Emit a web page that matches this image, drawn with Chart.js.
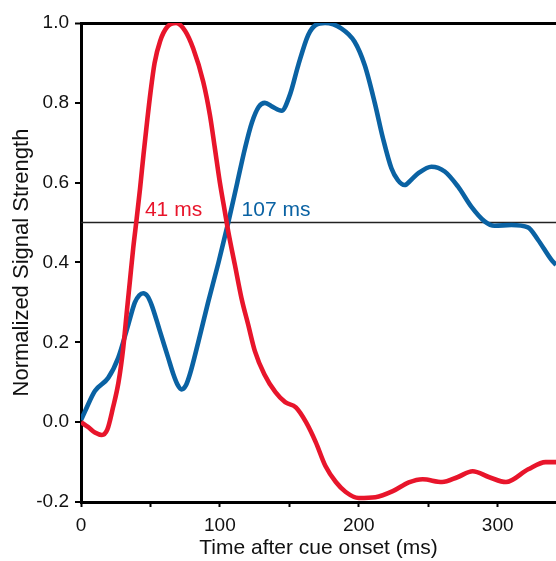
<!DOCTYPE html>
<html>
<head>
<meta charset="utf-8">
<script src="https://cdn.jsdelivr.net/npm/chart.js@4.4.0/dist/chart.umd.min.js"></script>
<style>
  html, body { margin: 0; padding: 0; background: #fff; }
  #wrap { width: 556px; height: 561px; }
</style>
</head>
<body>
<div id="wrap"><canvas id="signalChart" width="556" height="561"></canvas></div>
<script>
// red curve (early signal)
const redTimes = [0, 5, 10, 15, 19, 23, 27, 30.4, 32.8, 35.2, 37.6, 40.1, 42.5, 45, 47.5, 50, 53, 57, 62, 68.5, 75, 80.8, 88, 92.8, 96.4, 100, 103.6, 106, 110.8, 115.6, 120.4, 125.2, 132, 140, 147, 154.7, 162, 169, 176, 183.5, 190.6, 200, 212, 224.5, 236, 246, 260, 271, 282, 294, 306, 322, 334.5, 342]
const redValues = [0.0, -0.012, -0.026, -0.032, -0.018, 0.036, 0.1, 0.186, 0.27, 0.353, 0.436, 0.51, 0.585, 0.67, 0.75, 0.825, 0.9, 0.955, 0.99, 1.0, 0.98, 0.936, 0.853, 0.77, 0.686, 0.6, 0.527, 0.478, 0.394, 0.31, 0.244, 0.178, 0.12, 0.075, 0.05, 0.037, 0.0, -0.05, -0.11, -0.15, -0.175, -0.19, -0.188, -0.173, -0.151, -0.143, -0.15, -0.138, -0.123, -0.138, -0.15, -0.118, -0.1, -0.1]

// blue curve (late signal)
const blueTimes = [0, 3, 10, 19.6, 26.8, 34, 38.8, 42, 44.8, 47.8, 50.8, 56.8, 62.8, 66.5, 69.5, 72.4, 75.5, 78.4, 84.4, 91.5, 99, 106, 112.5, 118, 123, 128, 132.4, 138, 144.4, 150.4, 156.4, 163.6, 169, 175.7, 187.6, 197, 204.3, 211.5, 217.5, 223.5, 228, 233, 238, 242.7, 252.3, 261.9, 271.5, 281, 290.6, 297.8, 309.9, 321.8, 329, 338.6, 342]
const blueValues = [0.005, 0.028, 0.078, 0.111, 0.161, 0.244, 0.3, 0.318, 0.323, 0.316, 0.294, 0.228, 0.161, 0.12, 0.094, 0.082, 0.092, 0.12, 0.2, 0.3, 0.4, 0.5, 0.6, 0.685, 0.75, 0.79, 0.8, 0.79, 0.78, 0.82, 0.894, 0.97, 0.995, 1.0, 0.986, 0.953, 0.894, 0.8, 0.71, 0.636, 0.607, 0.594, 0.608, 0.623, 0.64, 0.628, 0.59, 0.54, 0.503, 0.492, 0.494, 0.488, 0.457, 0.407, 0.394]

const threshold = 0.5
const crossTimes = [41, 107]
const crossLabels = ['41 ms', '107 ms']

const xTicks = [0, 50, 100, 150, 200, 250, 300]
const xTickLabels = ['0', '', '100', '', '200', '', '300']
const yTicks = [-0.2, 0, 0.2, 0.4, 0.6, 0.8, 1.0]
const yTickLabels = ['-0.2', '0.0', '0.2', '0.4', '0.6', '0.8', '1.0']

const xMin = 0
const xMax = 342
const yMin = -0.2
const yMax = 1.0

const RED = '#e8152b'
const BLUE = '#0a62a3'
const FONT = '"Liberation Sans", Arial, Helvetica, sans-serif'

function toPoints(xs, ys) {
  return xs.map((x, i) => ({ x: x, y: ys[i] }))
}

// draws the "41 ms" / "107 ms" labels just right of each crossing
const crossLabelPlugin = {
  id: 'crossLabels',
  afterDatasetsDraw(chart) {
    const { ctx, scales } = chart
    const colors = [RED, BLUE]
    const gaps = [7, 12]
    ctx.save()
    ctx.font = '21px ' + FONT
    ctx.textAlign = 'left'
    ctx.textBaseline = 'alphabetic'
    crossLabels.forEach((txt, i) => {
      const px = scales.x.getPixelForValue(crossTimes[i]) + gaps[i]
      const py = scales.y.getPixelForValue(threshold) - 7
      ctx.fillStyle = colors[i]
      ctx.fillText(txt, px, py)
    })
    ctx.restore()
  }
}

const ctx = document.getElementById('signalChart').getContext('2d')

new Chart(ctx, {
  type: 'line',
  data: {
    datasets: [
      {
        label: 'early',
        data: toPoints(redTimes, redValues),
        borderColor: RED,
        borderWidth: 4.6,
        pointRadius: 0,
        cubicInterpolationMode: 'monotone',
        fill: false
      },
      {
        label: 'late',
        data: toPoints(blueTimes, blueValues),
        borderColor: BLUE,
        borderWidth: 4.6,
        pointRadius: 0,
        cubicInterpolationMode: 'monotone',
        fill: false
      },
      {
        label: 'half max',
        data: [{ x: xMin, y: threshold }, { x: xMax, y: threshold }],
        borderColor: '#222',
        borderWidth: 1.5,
        pointRadius: 0,
        fill: false
      }
    ]
  },
  options: {
    responsive: false,
    animation: false,
    layout: { padding: { top: 23, right: 0, left: 0, bottom: 0 } },
    plugins: {
      legend: { display: false },
      tooltip: { enabled: false }
    },
    scales: {
      x: {
        type: 'linear',
        min: xMin,
        max: xMax,
        afterBuildTicks: (scale) => {
          scale.ticks = xTicks.map((v) => ({ value: v }))
        },
        afterFit: (scale) => {
          scale.height = 59
        },
        ticks: {
          autoSkip: false,
          maxRotation: 0,
          padding: 7,
          color: '#111',
          font: { family: FONT, size: 19 },
          callback: (value, index) => xTickLabels[index]
        },
        grid: {
          drawOnChartArea: false,
          drawTicks: true,
          tickLength: 5,
          tickWidth: 2,
          tickColor: '#000'
        },
        border: { display: true, color: '#000', width: 3 },
        title: {
          display: true,
          text: 'Time after cue onset (ms)',
          color: '#111',
          font: { family: FONT, size: 21 },
          padding: { top: 0, bottom: 0 }
        }
      },
      y: {
        type: 'linear',
        min: yMin,
        max: yMax,
        afterBuildTicks: (scale) => {
          scale.ticks = yTicks.map((v) => ({ value: v }))
        },
        afterFit: (scale) => {
          scale.width = 81
        },
        ticks: {
          autoSkip: false,
          padding: 6,
          color: '#111',
          font: { family: FONT, size: 19 },
          callback: (value, index) => yTickLabels[index]
        },
        grid: {
          drawOnChartArea: true,
          color: (c) => (c.tick && c.tick.value === yMax ? '#000' : 'rgba(0,0,0,0)'),
          lineWidth: (c) => (c.tick && c.tick.value === yMax ? 3 : 0),
          drawTicks: true,
          tickLength: 6,
          tickWidth: 2,
          tickColor: '#000'
        },
        border: { display: true, color: '#000', width: 3 },
        title: {
          display: true,
          text: 'Normalized Signal Strength',
          color: '#111',
          font: { family: FONT, size: 22 },
          padding: { top: 9, bottom: 0 }
        }
      }
    }
  },
  plugins: [crossLabelPlugin]
})
</script>
</body>
</html>
